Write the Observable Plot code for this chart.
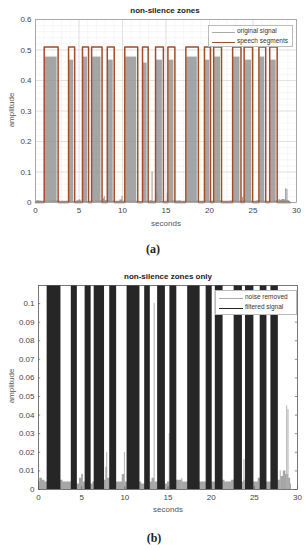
<!DOCTYPE html>
<html>
<head>
<meta charset="utf-8">
<script src="https://cdn.jsdelivr.net/npm/d3@7"></script>
<script src="https://cdn.jsdelivr.net/npm/@observablehq/plot@0.6"></script>
<style>
  body { margin: 0; background: #fff; }
  #root { position: relative; width: 307px; height: 550px; background: #fff; font-family: "Liberation Sans", Arial, sans-serif; overflow: hidden; }
  #root svg { position: absolute; left: 0; }
  .t { position: absolute; white-space: nowrap; color: #222; }
  .title { font-weight: bold; font-size: 8px; transform: translate(-50%, -50%); }
  .xl { font-size: 8px; color: #555; transform: translate(-50%, -50%); }
  .yl { font-size: 8px; color: #555; transform: translate(-50%, -50%) rotate(-90deg); }
  .cap { font-family: "Liberation Serif", "Times New Roman", serif; font-weight: bold; font-size: 12px; transform: translate(-50%, -50%); }
  .leg { position: absolute; background: #fff; border: 1px solid #bbb; }
  .li { position: absolute; font-size: 6.5px; color: #333; }
  .ln { position: absolute; height: 0; }
</style>
</head>
<body>
<div id="root"></div>
<script>
// ---- data ----
const segStart = [1.0, 3.8, 5.4, 6.45, 8.25, 10.26, 12.3, 13.8, 15.22, 17.28, 19.42, 20.48, 22.66, 23.98, 25.68, 26.92];
const segEnd   = [2.6, 4.5, 6.1, 7.65, 9.05, 11.75, 12.95, 14.7, 16.02, 18.72, 20.12, 21.38, 23.62, 24.95, 26.46, 27.78];
const segPeak  = [0.48, 0.47, 0.48, 0.48, 0.47, 0.48, 0.46, 0.47, 0.47, 0.48, 0.47, 0.48, 0.48, 0.47, 0.48, 0.47];
const segLevel = 0.51;
const signalEnd = 29.3;

const noiseT = [0.0, 0.3, 0.6, 0.9, 2.7, 3.0, 3.4, 3.7, 4.6, 4.9, 5.1, 5.3, 6.2, 6.4, 7.7, 7.9, 8.1, 9.1, 9.5, 9.9, 10.1, 11.8, 12.1, 13.0, 13.3, 13.6, 14.8, 15.1, 16.1, 16.5, 16.9, 17.2, 18.8, 19.1, 19.3, 20.2, 20.4, 21.4, 21.8, 22.2, 22.5, 23.7, 23.9, 25.0, 25.3, 25.6, 26.5, 26.8, 27.9, 28.2, 28.5, 28.8, 29.1, 29.3];
const noiseA = [0.004, 0.006, 0.005, 0.004, 0.005, 0.004, 0.004, 0.004, 0.003, 0.006, 0.008, 0.004, 0.003, 0.004, 0.005, 0.012, 0.006, 0.004, 0.004, 0.008, 0.004, 0.004, 0.003, 0.004, 0.006, 0.004, 0.003, 0.004, 0.005, 0.005, 0.004, 0.004, 0.004, 0.004, 0.004, 0.004, 0.004, 0.005, 0.004, 0.004, 0.005, 0.004, 0.005, 0.004, 0.004, 0.006, 0.004, 0.004, 0.005, 0.007, 0.010, 0.008, 0.006, 0.003];

const spikeT = [5.1, 7.9, 9.95, 13.4, 13.95, 15.15, 16.6, 23.8, 28.0, 28.75, 28.9];
const spikeA = [0.008, 0.02, 0.02, 0.1, 0.03, 0.03, 0.006, 0.016, 0.01, 0.045, 0.043];

const xTicks = [0, 5, 10, 15, 20, 25, 30];
const yTicksA = [0, 0.1, 0.2, 0.3, 0.4, 0.5, 0.6];
const yTicksB = [0, 0.01, 0.02, 0.03, 0.04, 0.05, 0.06, 0.07, 0.08, 0.09, 0.1];

// ---- derived tables ----
const segs = segStart.map((s, i) => ({s, e: segEnd[i], p: segPeak[i]}));
const noise = noiseT.map((t, i) => ({t, a: noiseA[i]}));
const spikes = spikeT.map((t, i) => ({t, a: spikeA[i]}));
const step = [{t: 0, v: 0}];
segs.forEach(d => { step.push({t: d.s, v: 0}, {t: d.s, v: segLevel}, {t: d.e, v: segLevel}, {t: d.e, v: 0}); });
step.push({t: signalEnd, v: 0});

const root = document.getElementById("root");
const fmtA = d => d === 0 ? "0" : d.toFixed(1);
const fmtB = d => d === 0 ? "0" : String(+d.toFixed(2));

// ---- panel (a) ----
const minorX = d3.range(0, 31, 1);
const minorYA = d3.range(0, 0.61, 0.02);
const plotA = Plot.plot({
  width: 307, height: 230,
  marginLeft: 35, marginRight: 11, marginTop: 19, marginBottom: 28,
  style: {fontFamily: "'Liberation Sans', Arial, sans-serif", fontSize: "8px", color: "#444", background: "transparent"},
  x: {domain: [0, 30]},
  y: {domain: [0, 0.6]},
  marks: [
    Plot.ruleX(minorX, {stroke: "#eee", strokeWidth: 0.5}),
    Plot.ruleY(minorYA, {stroke: "#eee", strokeWidth: 0.5}),
    Plot.ruleX(xTicks, {stroke: "#d8d8d8", strokeWidth: 0.7}),
    Plot.ruleY(yTicksA, {stroke: "#d8d8d8", strokeWidth: 0.7}),
    Plot.areaY(noise, {x: "t", y: "a", fill: "#999", curve: "step"}),
    Plot.ruleX(spikes, {x: "t", y1: 0, y2: "a", stroke: "#999", strokeWidth: 1}),
    Plot.rectY(segs, {x1: "s", x2: "e", y1: 0, y2: "p", fill: "#8f8f8f", fillOpacity: 0.8, inset: 1}),
    Plot.line(step, {x: "t", y: "v", stroke: "#a04e2a", strokeWidth: 1.5}),
    Plot.frame({stroke: "#999", strokeWidth: 0.8}),
    Plot.axisX({ticks: xTicks, tickFormat: d => d, tickSize: 0, tickPadding: 5, label: null, fontSize: 8}),
    Plot.axisY({ticks: yTicksA, tickFormat: fmtA, tickSize: 0, tickPadding: 4, label: null, fontSize: 8})
  ]
});
plotA.style.top = "0px";
root.appendChild(plotA);

// ---- panel (b) ----
const plotB = Plot.plot({
  width: 307, height: 260,
  marginLeft: 38, marginRight: 10, marginTop: 25, marginBottom: 31,
  style: {fontFamily: "'Liberation Sans', Arial, sans-serif", fontSize: "8px", color: "#444", background: "transparent"},
  x: {domain: [0, 30]},
  y: {domain: [0, 0.1097]},
  marks: [
    Plot.areaY(noise, {x: "t", y: "a", fill: "#a6a6a6", curve: "step"}),
    Plot.ruleX(spikes, {x: "t", y1: 0, y2: "a", stroke: "#b0b0b0", strokeWidth: 1}),
    Plot.rectY(segs, {x1: "s", x2: "e", y1: 0, y2: "p", fill: "#262626", clip: true}),
    Plot.ruleY(yTicksB, {x1: 0, x2: 0.25, stroke: "#444", strokeWidth: 0.6}),
    Plot.ruleY(yTicksB, {x1: 29.75, x2: 30, stroke: "#444", strokeWidth: 0.6}),
    Plot.ruleX(xTicks, {y1: 0, y2: 0.0015, stroke: "#444", strokeWidth: 0.6}),
    Plot.frame({stroke: "#555", strokeWidth: 0.8}),
    Plot.axisX({ticks: xTicks, tickFormat: d => d, tickSize: 0, tickPadding: 5, label: null, fontSize: 8}),
    Plot.axisY({ticks: yTicksB, tickFormat: fmtB, tickSize: 0, tickPadding: 4, label: null, fontSize: 8})
  ]
});
plotB.style.top = "260px";
root.appendChild(plotB);

// ---- text overlays ----
function addText(cls, txt, x, y) {
  const d = document.createElement("div");
  d.className = "t " + cls; d.textContent = txt;
  d.style.left = x + "px"; d.style.top = y + "px";
  root.appendChild(d);
}
addText("title", "non-silence zones", 165, 10);
addText("yl", "amplitude", 11, 110);
addText("xl", "seconds", 166, 223);
addText("cap", "(a)", 153, 249);
addText("title", "non-silence zones only", 168, 276);
addText("yl", "amplitude", 11, 386);
addText("xl", "seconds", 168, 509);
addText("cap", "(b)", 154, 538);

function legend(x, y, w, h, items) {
  const b = document.createElement("div");
  b.className = "leg";
  b.style.left = x + "px"; b.style.top = y + "px"; b.style.width = w + "px"; b.style.height = h + "px";
  root.appendChild(b);
  items.forEach(it => {
    const l = document.createElement("div");
    l.className = "ln";
    l.style.left = (it.lx - x) + "px"; l.style.top = (it.y - y) + "px";
    l.style.width = it.lw + "px"; l.style.borderTop = it.sw + "px solid " + it.color;
    b.appendChild(l);
    const t = document.createElement("div");
    t.className = "li"; t.textContent = it.label;
    t.style.left = (it.tx - x) + "px"; t.style.top = (it.y - y - 5) + "px";
    b.appendChild(t);
  });
}
legend(208, 25, 83, 20, [
  {label: "original signal", color: "#aaa", sw: 1, lx: 211, lw: 23, tx: 236, y: 31},
  {label: "speech segments", color: "#a04e2a", sw: 1, lx: 211, lw: 23, tx: 236, y: 41}
]);
legend(215, 290, 80, 23, [
  {label: "noise removed", color: "#aaa", sw: 1, lx: 218, lw: 24, tx: 244, y: 297},
  {label: "filtered signal", color: "#222", sw: 1, lx: 218, lw: 24, tx: 244, y: 307}
]);
</script>
</body>
</html>
